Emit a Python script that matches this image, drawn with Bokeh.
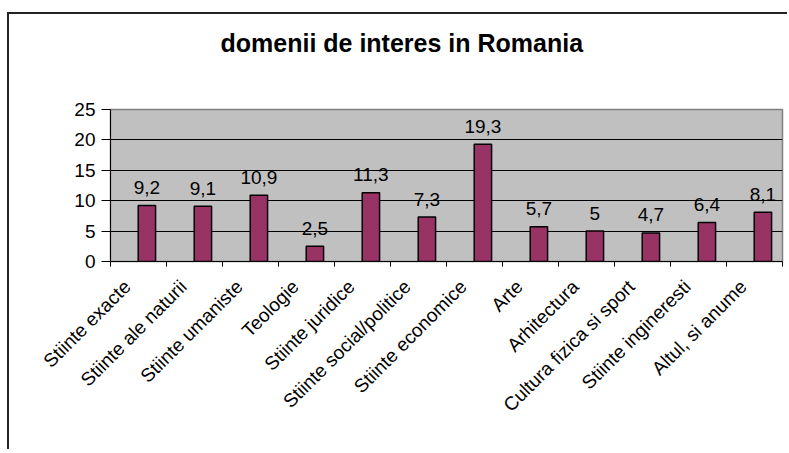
import math
from bokeh.plotting import figure
from bokeh.models import Range1d, FixedTicker, ColumnDataSource, Title
from bokeh.transform import dodge
from bokeh.core.properties import value
from bokeh.embed import file_html
from bokeh.resources import INLINE

categories = ["Stiinte exacte", "Stiinte ale naturii", "Stiinte umaniste", "Teologie",
              "Stiinte juridice", "Stiinte social/politice", "Stiinte economice", "Arte",
              "Arhitectura", "Cultura fizica si sport", "Stiinte ingineresti", "Altul, si anume"]
values = [9.2, 9.1, 10.9, 2.5, 11.3, 7.3, 19.3, 5.7, 5.0, 4.7, 6.4, 8.1]
y_ticks = [0, 5, 10, 15, 20, 25]
title_text = "domenii de interes in Romania"

n = len(categories)
centers = [i + 0.5 for i in range(n)]
bounds = list(range(n + 1))
label_pos = [c - 0.2 for c in centers]   # rotated labels sit slightly left of the category centre
labels = [f"{v:g}".replace(".", ",") for v in values]

src = ColumnDataSource(dict(x=centers, top=values, lab=labels))

FONT = "Liberation Sans"

p = figure(width=780, height=437, output_backend="svg", toolbar_location=None,
           x_range=Range1d(0, n), y_range=Range1d(0, 25),
           min_border_left=101, min_border_right=7, min_border_top=95, min_border_bottom=190)
p.styles = {"border-top": "2px solid #222", "border-left": "2px solid #222",
            "margin-top": "12px", "margin-left": "7px"}

p.background_fill_color = "#C0C0C0"
p.border_fill_color = "white"
p.outline_line_color = "#808080"
p.outline_line_width = 1.5

# spacer panel between the frame and the title
p.add_layout(Title(text=" ", text_font_size="10px", standoff=40), "above")

p.title.text = title_text
p.title.text_font = FONT
p.title.text_font_size = "25px"
p.title.text_font_style = "bold"
p.title.text_color = "black"
p.title.align = "left"
p.title.offset = 110
p.title.standoff = 0
p.title.vertical_align = "bottom"

bar_x = dodge("x", 0.15, range=p.x_range)
p.vbar(x=bar_x, top="top", width=0.31, source=src, fill_color="#993366",
       line_color="black", line_width=1.5)
p.text(x=bar_x, y="top", text="lab", source=src, text_font=value(FONT),
       text_font_size="19px", text_align="center", text_baseline="alphabetic",
       y_offset=-18, text_color="black")

p.xgrid.visible = False
p.ygrid.ticker = FixedTicker(ticks=y_ticks[1:-1])
p.ygrid.grid_line_color = "black"
p.ygrid.grid_line_width = 1

ya = p.yaxis[0]
ya.ticker = FixedTicker(ticks=y_ticks)
ya.axis_line_color = "black"
ya.major_tick_line_color = "black"
ya.major_tick_out = 9
ya.major_tick_in = 0
ya.minor_tick_line_color = None
ya.major_label_text_font = FONT
ya.major_label_text_font_size = "19px"
ya.major_label_standoff = 6
ya.major_label_text_color = "black"

xa = p.xaxis[0]
xa.ticker = FixedTicker(ticks=label_pos, minor_ticks=bounds)
xa.major_label_overrides = {c: name for c, name in zip(label_pos, categories)}
xa.major_tick_out = 0
xa.major_tick_in = 0
xa.minor_tick_out = 5
xa.minor_tick_in = 0
xa.minor_tick_line_color = "black"
xa.axis_line_color = "black"
xa.major_label_orientation = math.pi / 4
xa.major_label_text_font = FONT
xa.major_label_text_font_size = "19px"
xa.major_label_text_color = "black"
xa.major_label_standoff = 17

open("out.html", "w").write(file_html(p, INLINE))
